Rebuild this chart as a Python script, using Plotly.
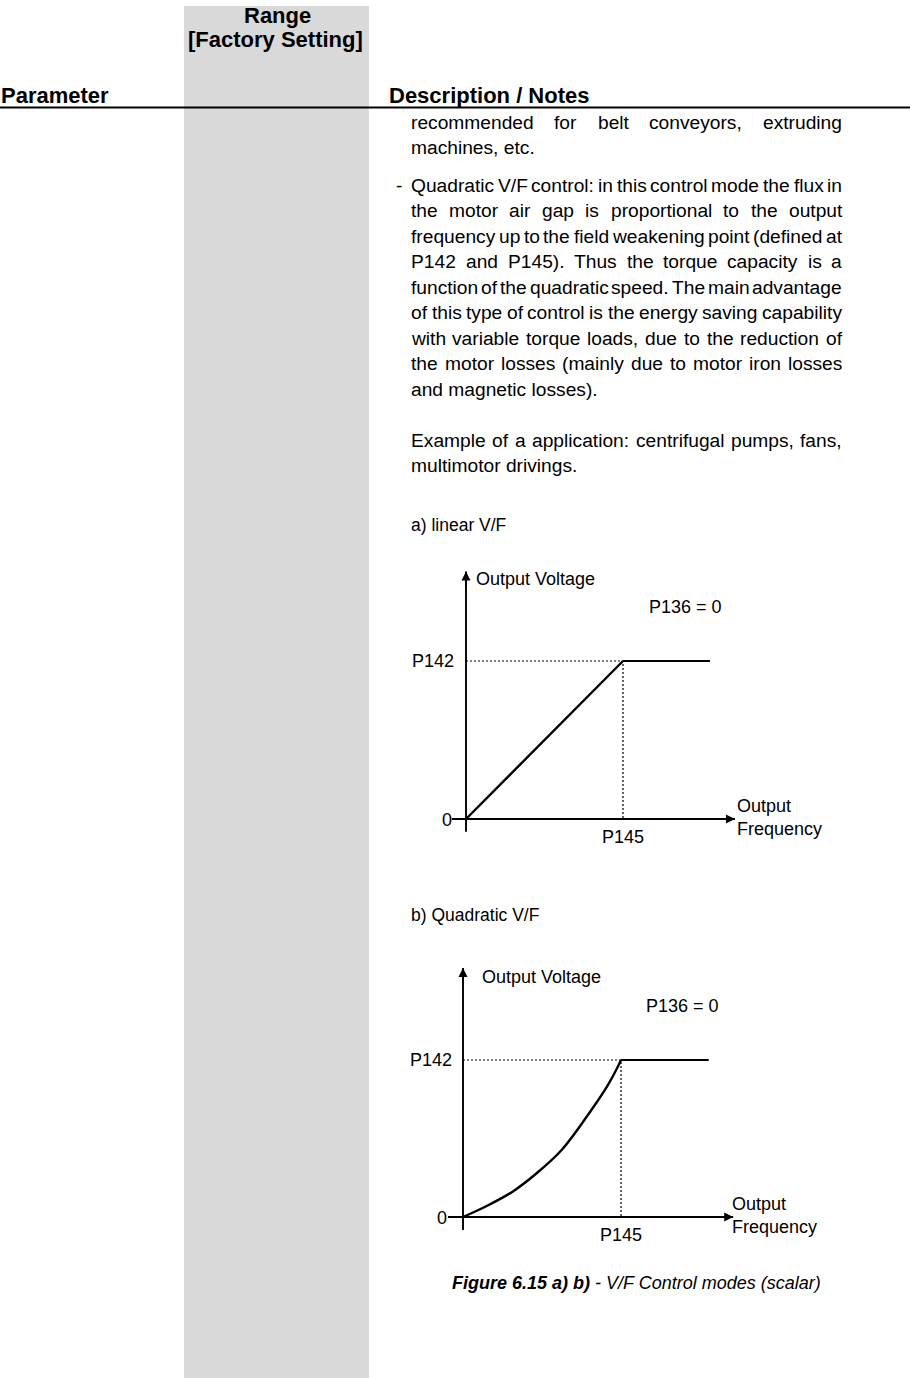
import plotly.graph_objects as go

# ---- page text ----
header_left = "Parameter"
header_mid = ["Range", "[Factory Setting]"]
header_right = "Description / Notes"

# (text, justified?)
body_lines = [
    ("recommended for belt conveyors, extruding", True),
    ("machines, etc.", False),
    ("Quadratic V/F control: in this control mode the flux in", True),
    ("the motor air gap is proportional to the output", True),
    ("frequency up to the field weakening point (defined at", True),
    ("P142 and P145). Thus the torque capacity is a", True),
    ("function of the quadratic speed. The main advantage", True),
    ("of this type of control is the energy saving capability", True),
    ("with variable torque loads, due to the reduction of", True),
    ("the motor losses (mainly due to motor iron losses", True),
    ("and magnetic losses).", False),
    ("Example of a application: centrifugal pumps, fans,", True),
    ("multimotor drivings.", False),
]
body_y = [122, 147, 185, 210.5, 236, 261.5, 287, 312.5, 338, 363.5, 389, 440, 465.5]

caption_bold = "Figure 6.15 a) b)"
caption_rest = " - V/F Control modes (scalar)"

# ---- diagram data (P145 = 1 on frequency axis, P142 = 1 on voltage axis) ----
linear_f = [0, 1, 1.554]
linear_v = [0, 1, 1]

quad_f = [0, 0.15, 0.316, 0.468, 0.627, 0.806, 0.911, 0.975, 1.0, 1.555]
quad_v = [0, 0.07, 0.163, 0.28, 0.43, 0.672, 0.83, 0.947, 1.0, 1.0]

p145 = 1.0
p142 = 1.0

FONT = "Liberation Sans, Arial, sans-serif"
W, H = 910, 1378
BODY = 19.2

# Arial / Liberation Sans advance widths (1/1000 em)
AW = {" ": 278, ",": 278, ".": 278, ":": 278, "(": 333, ")": 333, "/": 278, "-": 333}
AW.update({d: 556 for d in "0123456789"})
AW.update(dict(zip("abcdefghijklmnopqrstuvwxyz",
                   [556, 556, 500, 556, 556, 278, 556, 556, 222, 222, 500, 222, 833,
                    556, 556, 556, 556, 333, 500, 278, 556, 500, 722, 500, 500, 500])))
AW.update(dict(zip("ABCDEFGHIJKLMNOPQRSTUVWXYZ",
                   [667, 667, 722, 722, 667, 611, 778, 722, 278, 500, 667, 556, 833,
                    722, 778, 667, 778, 722, 667, 611, 722, 667, 944, 667, 667, 611])))


def text_width(s, size):
    return sum(AW.get(c, 556) for c in s) * size / 1000


fig = go.Figure()
annotations = []


def page_text(x, y, text, size=BODY, anchor="left", bold=False):
    annotations.append(dict(x=x, y=y, xref="x", yref="y", text=text, showarrow=False,
                            xanchor=anchor, yanchor="middle", borderpad=0, borderwidth=0,
                            font=dict(family=FONT, size=size, color="#000",
                                      weight="bold" if bold else "normal")))


def body_line(text, y, justify, left=411, right=842):
    words = text.split(" ")
    if not justify or len(words) < 2:
        page_text(left, y, text)
        return
    widths = [text_width(w, BODY) for w in words]
    gap = (right - left - sum(widths)) / (len(words) - 1)
    x = left
    for w, wd in zip(words, widths):
        page_text(x, y, w)
        x += wd + gap


# header
page_text(1, 95, header_left, size=22, bold=True)
page_text(277, 15, header_mid[0], size=22, anchor="center", bold=True)
page_text(275, 39, header_mid[1], size=22, anchor="center", bold=True)
page_text(389, 95, header_right, size=22, bold=True)

for (txt, just), y in zip(body_lines, body_y):
    body_line(txt, y, just)
page_text(396, 185, "-")

page_text(411, 525, "a) linear V/F", size=17.5)
page_text(411, 915, "b) Quadratic V/F", size=17.5)
annotations.append(dict(x=452, y=1283, xref="x", yref="y", showarrow=False,
                        xanchor="left", yanchor="middle", borderpad=0, borderwidth=0,
                        text="<b><i>" + caption_bold + "</i></b><i>" + caption_rest + "</i>",
                        font=dict(family=FONT, size=18, color="#000")))

# invisible base trace to hold the page axes
fig.add_trace(go.Scatter(x=[0, W], y=[0, H], mode="markers",
                         marker=dict(opacity=0), hoverinfo="skip", showlegend=False))


def diagram(n, f, v, ox, oy, ux, uy, dom_x, dom_y, lab, curved):
    xa, ya = f"x{n}", f"y{n}"
    axis_line = dict(color="#000", width=1.9)
    fig.add_trace(go.Scatter(x=[lab["xmin"], lab["xmax"]], y=[0, 0], mode="lines", line=axis_line,
                             xaxis=xa, yaxis=ya, showlegend=False, hoverinfo="skip"))
    fig.add_trace(go.Scatter(x=[0, 0], y=[lab["ymin"], lab["ymax"]], mode="lines", line=axis_line,
                             xaxis=xa, yaxis=ya, showlegend=False, hoverinfo="skip"))
    # dotted guides
    fig.add_trace(go.Scatter(x=[0, p145, p145], y=[p142, p142, 0], mode="lines",
                             line=dict(color="#000", width=1.2, dash="2px,2px"),
                             xaxis=xa, yaxis=ya, showlegend=False, hoverinfo="skip"))
    # characteristic: rising part + flat part above the field weakening point
    rise = dict(color="#000", width=2.4, shape="spline", smoothing=1.0) if curved \
        else dict(color="#000", width=2.4)
    fig.add_trace(go.Scatter(x=f[:-1], y=v[:-1], mode="lines", line=rise,
                             xaxis=xa, yaxis=ya, showlegend=False, hoverinfo="skip"))
    fig.add_trace(go.Scatter(x=f[-2:], y=v[-2:], mode="lines", line=dict(color="#000", width=2.2),
                             xaxis=xa, yaxis=ya, showlegend=False, hoverinfo="skip"))
    fig.update_layout({
        f"xaxis{n}": dict(domain=[dom_x[0] / W, dom_x[1] / W],
                          range=[(dom_x[0] - ox) / ux, (dom_x[1] - ox) / ux],
                          visible=False, anchor=ya, fixedrange=True),
        f"yaxis{n}": dict(domain=[1 - dom_y[1] / H, 1 - dom_y[0] / H],
                          range=[(oy - dom_y[1]) / uy, (oy - dom_y[0]) / uy],
                          visible=False, anchor=xa, fixedrange=True),
    })
    lf = dict(family=FONT, size=18, color="#000")
    common = dict(xref=xa, yref=ya, showarrow=False, borderpad=0, borderwidth=0, font=lf,
                  yanchor="middle")
    arrow = dict(xref=xa, yref=ya, axref=xa, ayref=ya, text="", showarrow=True, arrowhead=2,
                 arrowsize=1.2, arrowwidth=1.5, arrowcolor="#000", standoff=0, startstandoff=0)
    annotations.extend([
        dict(x=lab["xmax"], y=0, ax=lab["xmax"] - 0.1, ay=0, **arrow),
        dict(x=0, y=lab["ymax"], ax=0, ay=lab["ymax"] - 0.1, **arrow),
        dict(x=0, y=lab["ov_y"], xshift=lab["ov_dx"], text="Output Voltage", xanchor="left", **common),
        dict(x=lab["p136_x"], y=lab["p136_y"], text="P136 = 0", xanchor="left", **common),
        dict(x=0, y=p142, xshift=lab["p142_dx"], text="P142", xanchor="right", **common),
        dict(x=0, y=0, xshift=lab["zero_dx"], yshift=-1, text="0", xanchor="right", **common),
        dict(x=p145, y=0, yshift=-18, text="P145", xanchor="center", **common),
        dict(x=lab["of_x"], y=0, yshift=lab["of_dy"], text="Output<br>Frequency", align="left",
             xanchor="left", **common),
    ])


diagram(2, linear_f, linear_v, 466, 819, 157, 158, (430, 780), (560, 850),
        dict(xmin=-0.09, xmax=1.713, ymin=-0.08, ymax=1.567, ov_y=1.52, ov_dx=10,
             p136_x=1.166, p136_y=1.342, p142_dx=-12, zero_dx=-14, of_x=1.726, of_dy=2),
        curved=False)
diagram(3, quad_f, quad_v, 463, 1217, 158, 157, (430, 780), (955, 1250),
        dict(xmin=-0.095, xmax=1.71, ymin=-0.083, ymax=1.586, ov_y=1.53, ov_dx=19,
             p136_x=1.16, p136_y=1.344, p142_dx=-11, zero_dx=-16, of_x=1.70, of_dy=1.5),
        curved=True)

fig.update_layout(
    width=W, height=H,
    margin=dict(l=0, r=0, t=0, b=0),
    paper_bgcolor="white", plot_bgcolor="rgba(0,0,0,0)",
    xaxis=dict(domain=[0, 1], range=[0, W], visible=False, fixedrange=True),
    yaxis=dict(domain=[0, 1], range=[H, 0], visible=False, fixedrange=True),
    shapes=[
        dict(type="rect", xref="x", yref="y", x0=184, x1=369, y0=6, y1=H,
             fillcolor="#d9d9d9", line=dict(width=0), layer="below"),
        dict(type="line", xref="x", yref="y", x0=0, x1=W, y0=107.5, y1=107.5,
             line=dict(color="#000", width=2)),
    ],
    annotations=annotations,
    showlegend=False,
)

# drop the browser's default 8px body margin so the page fills the window exactly
fig.write_html("out.html", config={"displayModeBar": False},
               post_script="document.body.style.margin = '0';")
